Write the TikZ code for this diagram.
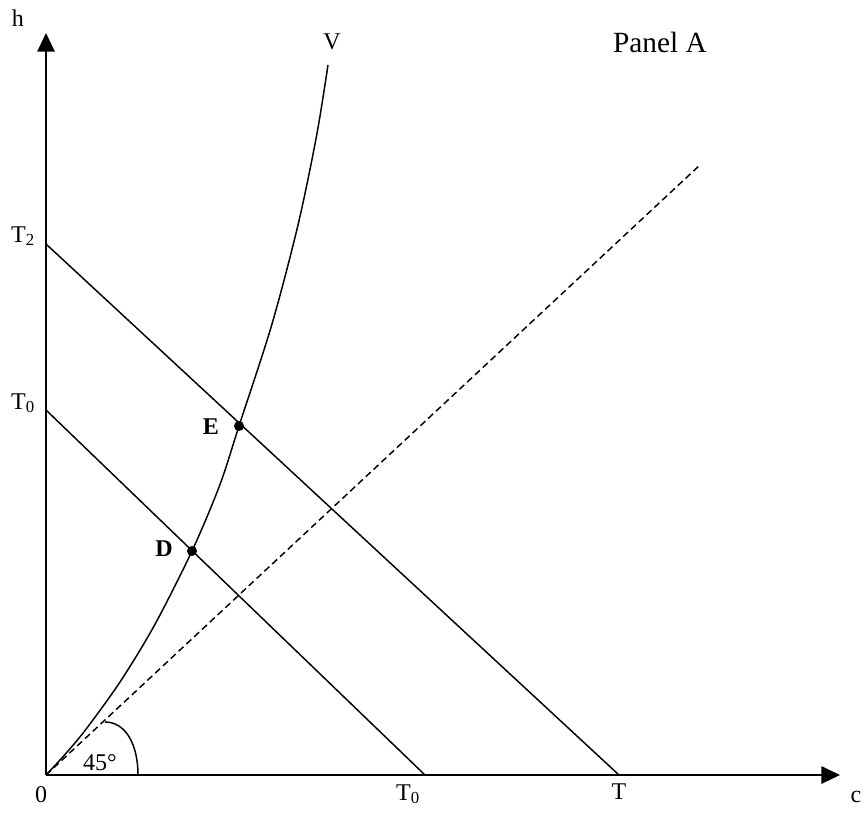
\documentclass[tikz,border=0pt]{standalone}
\usepackage{fontspec}
\setmainfont{Liberation Serif}
\usetikzlibrary{arrows.meta}
\begin{document}
\begin{tikzpicture}[x=0.75pt,y=-0.75pt,
  lbl/.style={inner sep=0pt,font=\fontsize{18}{21}\selectfont},
  bl/.style={inner sep=0pt,font=\fontsize{18}{21}\selectfont\bfseries},
  axis/.style={line width=1.5pt,-{Triangle[length=14pt,width=13pt]}},
  ln/.style={line width=1.1pt},
  dot/.style={circle,fill=black,inner sep=0pt,minimum size=7.5pt}]
\useasboundingbox (0,0) rectangle (863,814);
\coordinate (O) at (46,775);
\coordinate (ytip) at (46,33);
\coordinate (xtip) at (840,775);
\coordinate (T2s) at (46,244);
\coordinate (T0s) at (46,410);
\coordinate (T0e) at (425,775);
\coordinate (Te) at (619,775);
\coordinate (Dd) at (192,551);
\coordinate (Ee) at (239,426);
\coordinate (Vtop) at (328,65);
\coordinate (Dash) at (701,164);
\coordinate (A1) at (138,775);
\coordinate (A2) at (105,722);
% axes
\draw[axis] (O) -- (ytip);
\draw[axis] (O) -- (xtip);
% budget lines
\draw[ln] (T2s) -- (Te);
\draw[ln] (T0s) -- (T0e);
% 45 degree line
\draw[ln,dash pattern=on 5pt off 3pt] (O) -- (Dash);
% curve V
\draw[ln] plot[smooth,tension=0.5] coordinates {(46,775) (64.5,755) (85.4,730) (120,682) (154.6,625) (192,551) (219.8,485) (239,426) (271.7,325) (298,225) (316.7,135) (328,65)};
% angle arc
\draw[ln] (A1) .. controls (138,745) and (126,722) .. (A2);
% dots
\node[dot] (D) at (Dd) {};
\node[dot] (E) at (Ee) {};
% labels
\node[lbl] (h) at (18,18) {h};
\node[lbl] (c) at (856,797) {c};
\node[lbl] (zero) at (41,795) {0};
\node[lbl] (lT2) at (23,236) {T\textsubscript{2}};
\node[lbl] (lT0y) at (23,403) {T\textsubscript{0}};
\node[lbl] (lT0x) at (408,794) {T\textsubscript{0}};
\node[lbl] (lT) at (619,792) {T};
\node[bl] (lE) at (211,427) {E};
\node[bl] (lD) at (164,549) {D};
\node[lbl] (lV) at (332,42) {V};
\node[lbl] (deg) at (100,763) {45°};
\node[lbl,anchor=east,font=\fontsize{22}{26}\selectfont] (panel) at (707,42) {Panel A};
\end{tikzpicture}
\end{document}
